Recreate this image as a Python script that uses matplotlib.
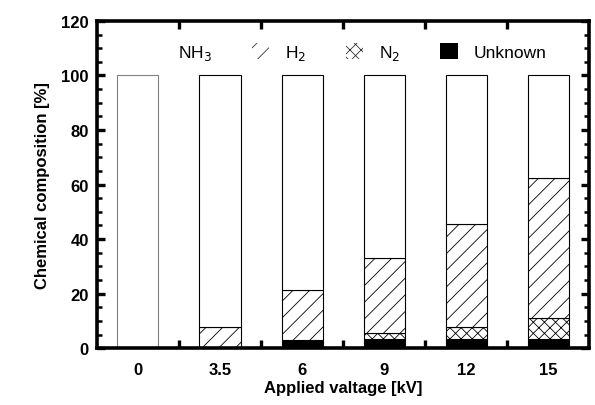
import matplotlib
matplotlib.use("Agg")
import matplotlib.pyplot as plt
from matplotlib.patches import Patch
from matplotlib.ticker import MultipleLocator, FixedLocator
import numpy as np

plt.rcParams['font.family'] = ['Liberation Sans', 'DejaVu Sans']
plt.rcParams['hatch.linewidth'] = 0.6
plt.rcParams['hatch.color'] = '#333333'

voltages = ['0', '3.5', '6', '9', '12', '15']
unknown = [0, 0, 3.0, 3.2, 3.5, 3.5]
n2 = [0, 0, 0, 2.2, 4.1, 7.4]
h2 = [0, 7.8, 18.4, 27.5, 37.9, 51.4]
nh3 = [100 - u - n - h for u, n, h in zip(unknown, n2, h2)]

fig = plt.figure(figsize=(5.95, 4.06), dpi=100)
ax = fig.add_axes([0.163, 0.140, 0.827, 0.806])

x = np.arange(len(voltages))
w = 0.5
ec = 'black'
lw = 0.8
b0 = np.zeros(len(x))
ax.bar(x, unknown, w, bottom=b0, color='black', edgecolor=ec, linewidth=lw)
b1 = b0 + np.array(unknown)
ax.bar(x, n2, w, bottom=b1, color='white', edgecolor=ec, linewidth=lw, hatch='xxx')
b2 = b1 + np.array(n2)
ax.bar(x, h2, w, bottom=b2, color='white', edgecolor=ec, linewidth=lw, hatch='//')
b3 = b2 + np.array(h2)
bars = ax.bar(x, nh3, w, bottom=b3, color='white', edgecolor=ec, linewidth=lw)
bars[0].set_edgecolor('#808080')

ax.set_xlim(-0.5, len(x) - 0.5)
ax.set_ylim(0, 120)
ax.set_xticks(x)
ax.set_xticklabels(voltages, fontweight='bold', fontsize=12)
yt = np.arange(0, 121, 20)
ax.set_yticks(yt)
ax.set_yticklabels([str(v) for v in yt], fontweight='bold', fontsize=12)
ax.xaxis.set_minor_locator(FixedLocator(np.arange(0.5, len(x) - 0.5, 1)))
ax.yaxis.set_minor_locator(MultipleLocator(5))

for s in ax.spines.values():
    s.set_linewidth(2.6)

ax.tick_params(axis='x', which='major', length=0, pad=10)
ax.tick_params(axis='x', which='minor', direction='in', length=6, width=2.4,
               top=True, bottom=True)
ax.tick_params(axis='y', which='major', direction='in', length=6, width=2.4,
               right=True, pad=6)
ax.tick_params(axis='y', which='minor', direction='in', length=3.5, width=1.8,
               right=True)

ax.set_xlabel('Applied valtage [kV]', fontsize=12, fontweight='bold', labelpad=2)
ax.set_ylabel('Chemical composition [%]', fontsize=12, fontweight='bold', labelpad=8)

handles = [
    Patch(facecolor='white', edgecolor='white', linewidth=0),
    Patch(facecolor='white', edgecolor='#333333', linewidth=0, hatch='//'),
    Patch(facecolor='white', edgecolor='#333333', linewidth=0, hatch='xxx'),
    Patch(facecolor='black', edgecolor='black', linewidth=0),
]
labels = ['NH$_3$', 'H$_2$', 'N$_2$', 'Unknown']
leg = ax.legend(handles, labels, ncol=4, frameon=False, loc='upper center',
                bbox_to_anchor=(0.505, 0.98), handlelength=1.0,
                handleheight=1.0, columnspacing=2.3, handletextpad=0.9,
                prop={'family': 'Liberation Sans', 'weight': 'normal', 'size': 12.5})

fig.savefig('out.png', dpi=100)
